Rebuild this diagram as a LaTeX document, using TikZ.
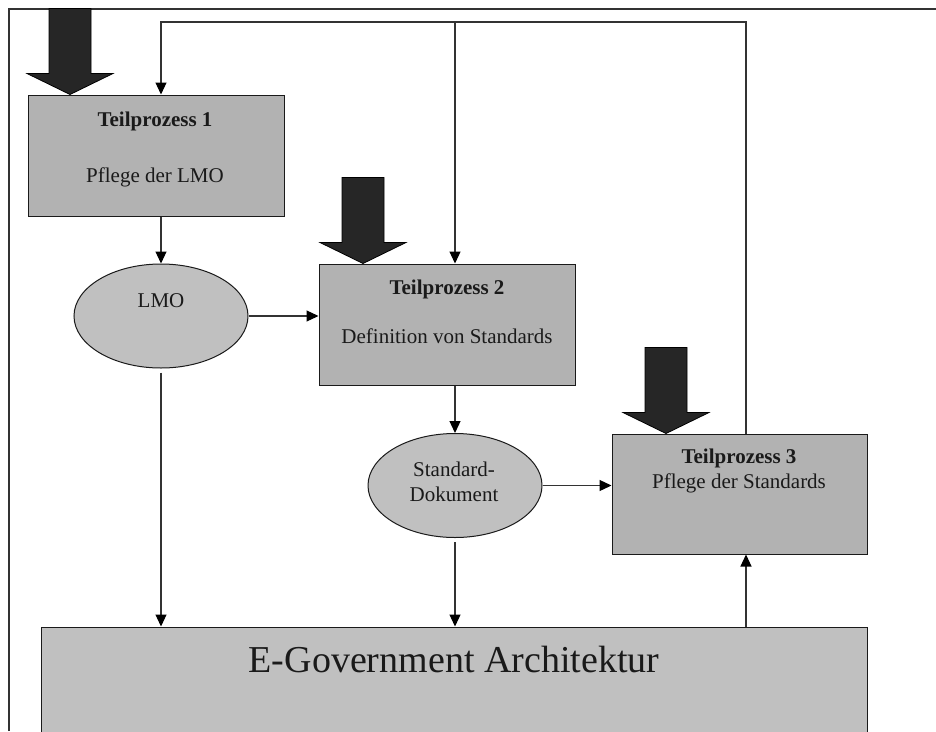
\documentclass[tikz,border=0pt]{standalone}
\usepackage{fontspec}
\setmainfont{Liberation Serif}
\usetikzlibrary{shapes.geometric,arrows.meta}

\definecolor{procfill}{HTML}{B2B2B2}
\definecolor{softfill}{HTML}{C0C0C0}
\definecolor{linegray}{HTML}{333333}
\definecolor{inputdark}{HTML}{262626}
\definecolor{inkgray}{HTML}{1A1A1A}

\tikzset{
  procbox/.style={draw=inkgray, line width=1pt, fill=procfill, rectangle, inner sep=0pt},
  archbox/.style={draw=inkgray, line width=1pt, fill=softfill, rectangle, inner sep=0pt},
  docoval/.style={draw=inkgray, line width=1pt, fill=softfill, ellipse, inner sep=0pt,
                  minimum width=174pt, minimum height=104pt},
  lbl/.style={inner sep=0pt, anchor=base, text=inkgray, font=\fontsize{21}{25}\selectfont},
  lblbold/.style={lbl, font=\fontsize{21}{25}\selectfont\bfseries},
  conn/.style={draw=linegray, line width=1.2pt,
               -{Triangle[length=12pt,width=11pt,color=black]}},
  frameline/.style={draw=linegray, line width=1.3pt},
  bigarrow/.style={draw=black, line width=0.8pt, fill=inputdark},
  inarrow/.pic={
    \path[bigarrow] (0,0) -- (43,-21) -- (21,-21) -- (21,-86)
      -- (-21,-86) -- (-21,-21) -- (-43,-21) -- cycle;
  }
}

\begin{document}
\begin{tikzpicture}[x=1pt,y=-1pt]
  \useasboundingbox (0,0) rectangle (936,731);
  \clip (0,0) rectangle (936,731);

  % page frame
  \draw[frameline] (9,731) -- (9,9) -- (936,9);

  % process boxes
  \node[procbox, minimum width=256pt, minimum height=121pt] (p1) at (156,155.5) {};
  \node[procbox, minimum width=256pt, minimum height=121pt] (p2) at (447,324.5) {};
  \node[procbox, minimum width=255pt, minimum height=120pt] (p3) at (739.5,494) {};
  \node[archbox, minimum width=826pt, minimum height=173pt] (arch) at (454,713.5) {};

  % documents
  \node[docoval] (lmo) at (161,316) {};
  \node[docoval] (sd) at (455,485.5) {};

  % texts
  \node[lblbold] (t1a) at (155,126) {Teilprozess 1};
  \node[lbl] (t1b) at (155,182) {Pflege der LMO};
  \node[lblbold] (t2a) at (447,294) {Teilprozess 2};
  \node[lbl] (t2b) at (447,343) {Definition von Standards};
  \node[lblbold] (t3a) at (739,463) {Teilprozess 3};
  \node[lbl] (t3b) at (739,488) {Pflege der Standards};
  \node[lbl] (tlmo) at (161,307) {LMO};
  \node[lbl] (tsd1) at (454,476) {Standard-};
  \node[lbl] (tsd2) at (454,501) {Dokument};
  \node[lbl, font=\fontsize{38}{44}\selectfont] (tarch) at (454,672) {E-Government Architektur};

  % input arrows
  \path (70,0 |- p1.north) pic {inarrow};
  \path (363,0 |- p2.north) pic {inarrow};
  \path (666,0 |- p3.north) pic {inarrow};

  % feedback loop
  \coordinate (fbR) at (746,22);
  \coordinate (fbM) at (455,22);
  \coordinate (fbL) at (161,22);
  \draw[conn] (p3.north -| fbR) -- (fbR) -- (fbL) -- (fbL |- p1.north);
  \draw[conn] (fbM) -- (fbM |- p2.north);

  % flow connectors
  \draw[conn] (p1.south -| lmo.north) -- (lmo.north);
  \draw[conn] (lmo.east) -- (lmo.east -| p2.west);
  \draw[conn] (p2.south -| sd.north) -- (sd.north);
  \draw[conn] (sd.east) -- (sd.east -| p3.west);
  \draw[conn] ([yshift=-4pt]lmo.south) -- (lmo.south |- arch.north);
  \draw[conn] ([yshift=-4pt]sd.south) -- (sd.south |- arch.north);
  \draw[conn] (arch.north -| fbR) -- (p3.south -| fbR);
\end{tikzpicture}
\end{document}
